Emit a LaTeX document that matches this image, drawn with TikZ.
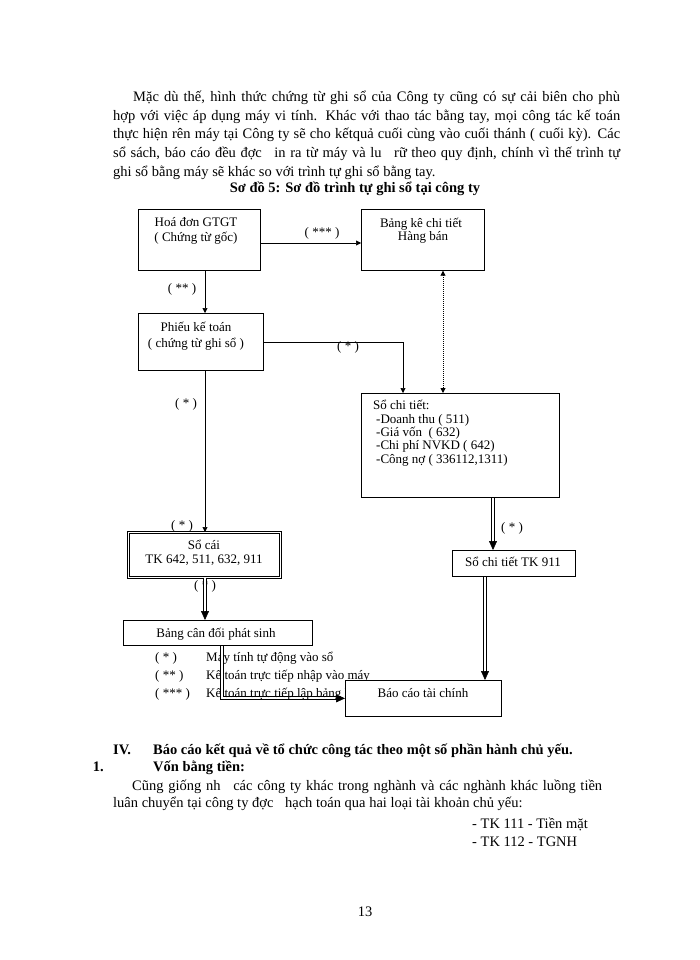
\documentclass[tikz,border=0pt]{standalone}
\usepackage{fontspec}
\setmainfont{Liberation Serif}
\usetikzlibrary{arrows.meta}
\newcommand\mydblv[2]{%
  \draw[thinl] ([xshift=-1.4pt]#1) -- ([xshift=-1.4pt,yshift=8pt]#2);
  \draw[thinl] ([xshift=1.4pt]#1) -- ([xshift=1.4pt,yshift=8pt]#2);
  \draw[tipo] ([yshift=9pt]#2) -- (#2);}
\begin{document}
\begin{tikzpicture}[x=1pt,y=-1pt,
 body/.style={inner sep=0pt, anchor=base west, font=\fontsize{14.5}{18}\selectfont},
 bodyb/.style={body, font=\fontsize{14.5}{18}\selectfont\bfseries},
 dtext/.style={inner sep=0pt, anchor=base, font=\fontsize{13}{15}\selectfont},
 dleft/.style={inner sep=0pt, anchor=base west, font=\fontsize{13}{15}\selectfont},
 box/.style={draw, line width=0.7pt, fill=white, inner sep=0pt, anchor=north west},
 arr/.style={line width=0.6pt, -{Triangle[length=5pt,width=5pt]}},
 arrboth/.style={line width=0.9pt, dash pattern=on 1pt off 1pt, {Triangle[length=5pt,width=5pt]}-{Triangle[length=5pt,width=5pt]}},
 thinl/.style={line width=1pt},
 tipo/.style={line width=0.6pt, -{Triangle[length=9pt,width=8pt]}},
]
\useasboundingbox[fill=white] (0,0) rectangle (700,960);

% ---------- paragraph ----------
\node[body] (p1) at (133,102) {\makebox[487pt][s]{Mặc dù thế, hình thức chứng từ ghi sổ của Công ty cũng có sự cải biên cho phù}};
\node[body] (p2) at (113,121) {\makebox[507pt][s]{hợp với việc áp dụng máy vi tính. Khác với thao tác bằng tay, mọi công tác kế toán}};
\node[body] (p3) at (113,139) {\makebox[507pt][s]{thực hiện rên máy tại Công ty sẽ cho kếtquả cuối cùng vào cuối thánh ( cuối kỳ). Các}};
\node[body] (p4) at (113,158) {\makebox[507pt][s]{sổ sách, báo cáo đều đợc\hspace{8pt} in ra từ máy và lu\hspace{8pt} rữ theo quy định, chính vì thế trình tự}};
\node[body] (p5) at (113,176) {ghi sổ bằng máy sẽ khác so với trình tự ghi sổ bằng tay.};
\node[bodyb, anchor=base] (title) at (355,193) {Sơ đồ 5: Sơ đồ trình tự ghi sổ tại công ty};

% ---------- legend (under boxes) ----------
\node[dleft] (l1a) at (155,661) {( * )};
\node[dleft] (l1b) at (206,661) {Máy tính tự động vào sổ};
\node[dleft] (l2a) at (155,679) {( ** )};
\node[dleft] (l2b) at (206,679) {Kế toán trực tiếp nhập vào máy};
\node[dleft] (l3a) at (155,697) {( *** )};
\node[dleft] (l3b) at (206,697) {Kế toán trực tiếp lập bảng kê};

% ---------- boxes ----------
\node[box, minimum width=122pt, minimum height=61pt] (hd) at (138,209) {};
\node[box, minimum width=123pt, minimum height=61pt] (bk) at (361,209) {};
\node[box, minimum width=125pt, minimum height=57pt] (pk) at (138,313) {};
\node[box, minimum width=198pt, minimum height=104pt] (sct) at (361,393) {};
\node[box, double, double distance=1.6pt, line width=0.7pt, minimum width=152pt, minimum height=45pt] (sc) at (128,532) {};
\node[box, minimum width=123pt, minimum height=26pt] (s911) at (452,550) {};
\node[box, minimum width=189pt, minimum height=25pt] (bcd) at (123,620) {};
\node[box, minimum width=156pt, minimum height=36pt] (bctc) at (345,680) {};

% ---------- box texts ----------
\node[dtext] (t1) at (196,226) {Hoá đơn GTGT};
\node[dtext] (t2) at (196,241) {( Chứng từ gốc)};
\node[dtext] (t3) at (421,227) {Bảng kê chi tiết};
\node[dtext] (t4) at (423,240) {Hàng bán};
\node[dtext] (t5) at (196,331) {Phiếu kế toán};
\node[dtext] (t6) at (196,347) {( chứng từ ghi sổ )};
\node[dleft] (t7) at (373,409) {Sổ chi tiết:};
\node[dleft] (t8) at (376,423) {-Doanh thu ( 511)};
\node[dleft] (t9) at (376,436) {-Giá vốn\ \ ( 632)};
\node[dleft] (t10) at (376,449) {-Chi phí NVKD ( 642)};
\node[dleft] (t11) at (376,463) {-Công nợ ( 336112,1311)};
\node[dtext] (t12) at (204,549) {Sổ cái};
\node[dtext] (t13) at (204,563) {TK 642, 511, 632, 911};
\node[dtext] (t14) at (513,566) {Sổ chi tiết TK 911};
\node[dtext] (t15) at (216,637) {Bảng cân đối phát sinh};
\node[dtext] (t16) at (423,697) {Báo cáo tài chính};

% ---------- connector labels ----------
\node[dtext] (c1) at (322,236) {( *** )};
\node[dtext] (c2) at (182,292) {( ** )};
\node[dtext] (c3) at (348,350) {( * )};
\node[dtext] (c4) at (186,407) {( * )};
\node[dtext] (c5) at (182,529) {( * )};
\node[dtext] (c6) at (205,589) {( * )};
\node[dtext] (c7) at (512,531) {( * )};

% ---------- helper coordinates ----------
\coordinate (x205) at (205,0);
\coordinate (x222) at (222,0);
\coordinate (x403) at (403,0);
\coordinate (x443) at (443,0);
\coordinate (x485) at (485,0);
\coordinate (x493) at (493,0);
\coordinate (y243) at (0,243);

% ---------- single connectors ----------
\draw[arr] (hd.east |- y243) -- (bk.west |- y243);
\draw[arr] (hd.south -| x205) -- (pk.north -| x205);
\draw[arr] (pk.east) -| (sct.north -| x403);
\draw[arrboth] (bk.south -| x443) -- (sct.north -| x443);
\draw[arr] (pk.south -| x205) -- (sc.north -| x205);

% ---------- double connectors ----------
\coordinate (d1s) at (sc.south -| x205);   \coordinate (d1e) at (bcd.north -| x205);
\coordinate (d2s) at (sct.south -| x493);  \coordinate (d2e) at (s911.north -| x493);
\coordinate (d3s) at (s911.south -| x485); \coordinate (d3e) at (bctc.north -| x485);
\fill[white] ([xshift=-1.4pt]d1s) rectangle ([xshift=1.4pt,yshift=8pt]d1e);
\mydblv{d1s}{d1e}
\mydblv{d2s}{d2e}
\mydblv{d3s}{d3e}
\coordinate (e1) at (bcd.south -| x222);
\coordinate (e2) at (bctc.west);
\fill[white] ([xshift=-1.4pt]e1) rectangle ([xshift=1.4pt,yshift=-1.4pt]e1 |- e2);
\draw[thinl] ([xshift=-1.4pt]e1) |- ([xshift=-8pt,yshift=-1.4pt]e2);
\draw[thinl] ([xshift=1.4pt]e1) |- ([xshift=-8pt,yshift=1.4pt]e2);
\draw[tipo] ([xshift=-9pt]e2) -- (e2);

% ---------- lower text ----------
\node[bodyb] (iv) at (113,754) {IV.};
\node[bodyb] (ivt) at (153,754) {Báo cáo kết quả về tổ chức công tác theo một số phần hành chủ yếu.};
\node[bodyb, anchor=base east] (one) at (104,771) {1.};
\node[bodyb] (vbt) at (153,771) {Vốn bằng tiền:};
\node[body] (q1) at (132,790) {\makebox[470pt][s]{Cũng giống nh\hspace{8pt} các công ty khác trong nghành và các nghành khác luồng tiền}};
\node[body] (q2) at (113,807) {luân chuyển tại công ty đợc\hspace{8pt} hạch toán qua hai loại tài khoản chủ yếu:};
\node[body] (q3) at (472,828) {- TK 111 - Tiền mặt};
\node[body] (q4) at (472,846) {- TK 112 - TGNH};
\node[body, anchor=base] (pg) at (365,916) {13};
\end{tikzpicture}
\end{document}
